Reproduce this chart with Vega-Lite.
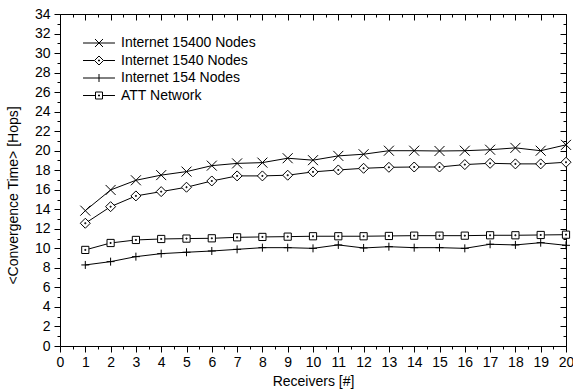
{
  "$schema": "https://vega.github.io/schema/vega-lite/v6.json",
  "width": 506,
  "height": 332,
  "autosize": "none",
  "padding": {"left": 60, "top": 14, "right": 7, "bottom": 45},
  "config": {
    "font": "Liberation Sans",
    "view": {"stroke": null},
    "axis": {"grid": false, "domainColor": "black", "tickColor": "black", "labelColor": "black", "titleColor": "black", "labelFontSize": 14, "titleFontSize": 14, "titleFontWeight": "normal", "domainWidth": 1, "tickWidth": 1}
  },
  "data": {"values": [
    {"x":1,"s":"Internet 15400 Nodes","v":13.86},{"x":2,"s":"Internet 15400 Nodes","v":15.98},{"x":3,"s":"Internet 15400 Nodes","v":16.97},{"x":4,"s":"Internet 15400 Nodes","v":17.5},{"x":5,"s":"Internet 15400 Nodes","v":17.86},{"x":6,"s":"Internet 15400 Nodes","v":18.47},{"x":7,"s":"Internet 15400 Nodes","v":18.7},{"x":8,"s":"Internet 15400 Nodes","v":18.78},{"x":9,"s":"Internet 15400 Nodes","v":19.23},{"x":10,"s":"Internet 15400 Nodes","v":19.03},{"x":11,"s":"Internet 15400 Nodes","v":19.47},{"x":12,"s":"Internet 15400 Nodes","v":19.64},{"x":13,"s":"Internet 15400 Nodes","v":20.0},{"x":14,"s":"Internet 15400 Nodes","v":20.0},{"x":15,"s":"Internet 15400 Nodes","v":19.97},{"x":16,"s":"Internet 15400 Nodes","v":20.0},{"x":17,"s":"Internet 15400 Nodes","v":20.1},{"x":18,"s":"Internet 15400 Nodes","v":20.29},{"x":19,"s":"Internet 15400 Nodes","v":20.0},{"x":20,"s":"Internet 15400 Nodes","v":20.6},
    {"x":1,"s":"Internet 1540 Nodes","v":12.57},{"x":2,"s":"Internet 1540 Nodes","v":14.27},{"x":3,"s":"Internet 1540 Nodes","v":15.37},{"x":4,"s":"Internet 1540 Nodes","v":15.81},{"x":5,"s":"Internet 1540 Nodes","v":16.26},{"x":6,"s":"Internet 1540 Nodes","v":16.9},{"x":7,"s":"Internet 1540 Nodes","v":17.42},{"x":8,"s":"Internet 1540 Nodes","v":17.42},{"x":9,"s":"Internet 1540 Nodes","v":17.49},{"x":10,"s":"Internet 1540 Nodes","v":17.83},{"x":11,"s":"Internet 1540 Nodes","v":18.03},{"x":12,"s":"Internet 1540 Nodes","v":18.2},{"x":13,"s":"Internet 1540 Nodes","v":18.3},{"x":14,"s":"Internet 1540 Nodes","v":18.33},{"x":15,"s":"Internet 1540 Nodes","v":18.33},{"x":16,"s":"Internet 1540 Nodes","v":18.58},{"x":17,"s":"Internet 1540 Nodes","v":18.71},{"x":18,"s":"Internet 1540 Nodes","v":18.65},{"x":19,"s":"Internet 1540 Nodes","v":18.65},{"x":20,"s":"Internet 1540 Nodes","v":18.82},
    {"x":1,"s":"Internet 154 Nodes","v":8.3},{"x":2,"s":"Internet 154 Nodes","v":8.64},{"x":3,"s":"Internet 154 Nodes","v":9.15},{"x":4,"s":"Internet 154 Nodes","v":9.46},{"x":5,"s":"Internet 154 Nodes","v":9.6},{"x":6,"s":"Internet 154 Nodes","v":9.73},{"x":7,"s":"Internet 154 Nodes","v":9.9},{"x":8,"s":"Internet 154 Nodes","v":10.07},{"x":9,"s":"Internet 154 Nodes","v":10.07},{"x":10,"s":"Internet 154 Nodes","v":10.0},{"x":11,"s":"Internet 154 Nodes","v":10.35},{"x":12,"s":"Internet 154 Nodes","v":10.04},{"x":13,"s":"Internet 154 Nodes","v":10.17},{"x":14,"s":"Internet 154 Nodes","v":10.07},{"x":15,"s":"Internet 154 Nodes","v":10.07},{"x":16,"s":"Internet 154 Nodes","v":10.0},{"x":17,"s":"Internet 154 Nodes","v":10.42},{"x":18,"s":"Internet 154 Nodes","v":10.35},{"x":19,"s":"Internet 154 Nodes","v":10.58},{"x":20,"s":"Internet 154 Nodes","v":10.31},
    {"x":1,"s":"ATT Network","v":9.84},{"x":2,"s":"ATT Network","v":10.55},{"x":3,"s":"ATT Network","v":10.86},{"x":4,"s":"ATT Network","v":10.96},{"x":5,"s":"ATT Network","v":11.0},{"x":6,"s":"ATT Network","v":11.03},{"x":7,"s":"ATT Network","v":11.13},{"x":8,"s":"ATT Network","v":11.17},{"x":9,"s":"ATT Network","v":11.2},{"x":10,"s":"ATT Network","v":11.24},{"x":11,"s":"ATT Network","v":11.24},{"x":12,"s":"ATT Network","v":11.24},{"x":13,"s":"ATT Network","v":11.27},{"x":14,"s":"ATT Network","v":11.3},{"x":15,"s":"ATT Network","v":11.3},{"x":16,"s":"ATT Network","v":11.3},{"x":17,"s":"ATT Network","v":11.34},{"x":18,"s":"ATT Network","v":11.34},{"x":19,"s":"ATT Network","v":11.37},{"x":20,"s":"ATT Network","v":11.4}
  ]},
  "layer": [
    {
      "mark": {"type": "line", "color": "black", "strokeWidth": 1},
      "encoding": {
        "x": {"field": "x", "type": "quantitative", "scale": {"domain": [0, 20], "nice": false},
          "axis": {"orient": "bottom", "values": [0,1,2,3,4,5,6,7,8,9,10,11,12,13,14,15,16,17,18,19,20], "tickSize": 6, "labelPadding": 3, "labelFlush": false, "labelOverlap": false, "title": "Receivers [#]", "titlePadding": 5}},
        "y": {"field": "v", "type": "quantitative", "scale": {"domain": [0, 34], "nice": false},
          "axis": {"orient": "left", "values": [0,2,4,6,8,10,12,14,16,18,20,22,24,26,28,30,32,34], "tickSize": 6, "labelPadding": 4, "labelFlush": false, "labelOverlap": false, "title": "<Convergence Time> [Hops]", "titleX": -47, "titleY": 181, "titleAngle": -90, "titleAlign": "center", "titleBaseline": "middle"}},
        "detail": {"field": "s", "type": "nominal"},
        "order": {"field": "x", "type": "quantitative"}
      }
    },
    {
      "mark": {"type": "point", "filled": true, "fill": "white", "stroke": "black", "strokeWidth": 1, "size": 100, "opacity": 1},
      "encoding": {
        "x": {"field": "x", "type": "quantitative", "scale": {"domain": [0, 20], "nice": false},
          "axis": {"orient": "bottom", "values": [0.5,1.5,2.5,3.5,4.5,5.5,6.5,7.5,8.5,9.5,10.5,11.5,12.5,13.5,14.5,15.5,16.5,17.5,18.5,19.5], "tickSize": 3, "labels": false, "domain": false, "title": null}},
        "y": {"field": "v", "type": "quantitative", "scale": {"domain": [0, 34], "nice": false},
          "axis": {"orient": "left", "values": [1,3,5,7,9,11,13,15,17,19,21,23,25,27,29,31,33], "tickSize": 3, "labels": false, "domain": false, "title": null}},
        "shape": {"field": "s", "type": "nominal", "legend": null,
          "scale": {"domain": ["Internet 15400 Nodes", "Internet 1540 Nodes", "Internet 154 Nodes", "ATT Network"],
            "range": ["M-1,-1L1,1M-1,1L1,-1", "M0,-1L1,0L0,1L-1,0ZM-0.1,-0.1H0.1V0.1H-0.1Z", "M-0.8,0H0.8M0,-0.8V0.8", "M-0.72,-0.72H0.72V0.72H-0.72ZM-0.1,-0.1H0.1V0.1H-0.1Z"]}}
      }
    },
    {
      "transform": [{"filter": "datum.x < 0"}],
      "mark": {"type": "point", "filled": false, "color": "black", "strokeWidth": 1},
      "encoding": {
        "x": {"field": "x", "type": "quantitative", "scale": {"domain": [0, 20], "nice": false},
          "axis": {"orient": "top", "values": [0,1,2,3,4,5,6,7,8,9,10,11,12,13,14,15,16,17,18,19,20], "tickSize": -6, "labels": false, "title": null}},
        "y": {"field": "v", "type": "quantitative", "scale": {"domain": [0, 34], "nice": false},
          "axis": {"orient": "right", "values": [0,2,4,6,8,10,12,14,16,18,20,22,24,26,28,30,32,34], "tickSize": -6, "labels": false, "title": null}},
        "shape": {"field": "s", "type": "nominal",
          "scale": {"domain": ["Internet 15400 Nodes", "Internet 1540 Nodes", "Internet 154 Nodes", "ATT Network"],
            "range": ["M-1.88,0H1.88M-0.47,-0.47L0.47,0.47M-0.47,0.47L0.47,-0.47", "M-1.88,0H-0.53M0.53,0H1.88M0,-0.53L0.53,0L0,0.53L-0.53,0ZM-0.06,-0.06H0.06V0.06H-0.06Z", "M-1.88,0H1.88M0,-0.47V0.47", "M-1.88,0H-0.41M0.41,0H1.88M-0.41,-0.41H0.41V0.41H-0.41ZM-0.06,-0.06H0.06V0.06H-0.06Z"]},
          "legend": {"orient": "none", "legendX": 30, "legendY": 20, "title": null, "symbolSize": 289, "labelFontSize": 14, "labelColor": "black", "symbolFillColor": "white", "symbolStrokeColor": "black", "symbolStrokeWidth": 1, "symbolOpacity": 1, "labelOffset": 13, "rowPadding": 1.5, "padding": 0,
            "encode": {"symbols": {"update": {"stroke": {"value": "black"}, "fill": {"value": "white"}, "strokeWidth": {"value": 1}, "opacity": {"value": 1}}}}}}
      }
    },
    {
      "transform": [{"filter": "datum.x < 0"}],
      "mark": {"type": "point"},
      "encoding": {
        "x": {"field": "x", "type": "quantitative", "scale": {"domain": [0, 20], "nice": false},
          "axis": {"orient": "top", "values": [0.5,1.5,2.5,3.5,4.5,5.5,6.5,7.5,8.5,9.5,10.5,11.5,12.5,13.5,14.5,15.5,16.5,17.5,18.5,19.5], "tickSize": -3, "labels": false, "domain": false, "title": null}},
        "y": {"field": "v", "type": "quantitative", "scale": {"domain": [0, 34], "nice": false},
          "axis": {"orient": "right", "values": [1,3,5,7,9,11,13,15,17,19,21,23,25,27,29,31,33], "tickSize": -3, "labels": false, "domain": false, "title": null}}
      }
    }
  ],
  "resolve": {"axis": {"x": "independent", "y": "independent"}, "scale": {"shape": "independent"}, "legend": {"shape": "independent"}}
}
